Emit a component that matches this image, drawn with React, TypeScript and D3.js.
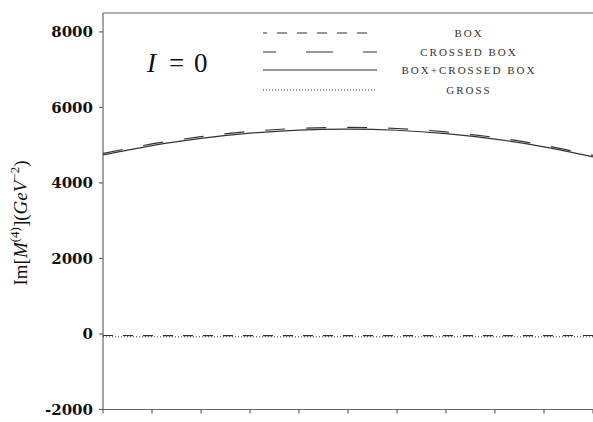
import React from "react";
import * as d3 from "d3";

// Sample points along the horizontal axis (eleven evenly spaced positions)
const xs = [0, 1, 2, 3, 4, 5, 6, 7, 8, 9, 10];

// Im part of the I = 0 amplitude, GeV^-2
const boxValues = [-40, -42, -44, -45, -46, -46, -46, -45, -44, -42, -40];
const crossedValues = [4780, 5032, 5224, 5363, 5446, 5471, 5441, 5350, 5204, 4997, 4730];
const sumValues = [4740, 4990, 5180, 5318, 5400, 5425, 5395, 5305, 5160, 4955, 4690];
const grossValues = [-75, -75, -75, -75, -75, -75, -75, -75, -75, -75, -75];

const yTicks = [-2000, 0, 2000, 4000, 6000, 8000];
const xTicks = [0, 1, 2, 3, 4, 5, 6, 7, 8, 9, 10];

const legendLabels = ["BOX", "CROSSED BOX", "BOX+CROSSED BOX", "GROSS"];

const W = 593;
const H = 422;
const left = 103;
const right = 593;
const top = 13;
const bottom = 409.5;

const x = d3.scaleLinear().domain([0, 10]).range([left, right]);
const y = d3.scaleLinear().domain([-2000, 8500]).range([bottom, top]);

const line = d3
  .line<number>()
  .x((_, i) => x(xs[i]))
  .y((d) => y(d))
  .curve(d3.curveNatural);

const ink = "#333";
const axisColor = "#666";

const series = [
  { values: boxValues, dash: "10,10", legendDash: "10,10", legendOffset: 6 },
  { values: crossedValues, dash: "20,21", legendDash: "27,30", legendOffset: 14 },
  { values: sumValues, dash: "none", legendDash: "none", legendOffset: 0 },
  { values: grossValues, dash: "1,2", legendDash: "1,2", legendOffset: 0 },
];

const legendRows = [33, 52, 70, 90];

export default function App() {
  return (
    <svg
      width={W}
      height={H}
      style={{ position: "absolute", left: 0, top: 0, background: "#fff" }}
    >
      <defs>
        <clipPath id="plot">
          <rect x={left} y={top} width={right - left} height={bottom - top} />
        </clipPath>
      </defs>

      {/* frame */}
      <line x1={left} x2={left} y1={top} y2={bottom} stroke={axisColor} strokeWidth={1.2} />
      <line x1={left} x2={W} y1={top} y2={top} stroke={axisColor} strokeWidth={1.2} />
      <line x1={left - 3} x2={W} y1={bottom} y2={bottom} stroke={axisColor} strokeWidth={1.2} />

      {/* y ticks and labels */}
      {yTicks.map((t) => (
        <g key={t}>
          <line x1={left - 4} x2={left} y1={y(t)} y2={y(t)} stroke={axisColor} strokeWidth={1.2} />
          <text
            x={left - 10}
            y={y(t)}
            dy="0.36em"
            textAnchor="end"
            fontFamily="DejaVu Serif"
            fontWeight="bold"
            fontSize={15}
            fill="#111"
          >
            {t}
          </text>
        </g>
      ))}

      {/* x ticks */}
      {xTicks.map((t) => (
        <line
          key={t}
          x1={x(t)}
          x2={x(t)}
          y1={bottom}
          y2={bottom + 4}
          stroke={axisColor}
          strokeWidth={1.2}
        />
      ))}

      {/* curves */}
      <g clipPath="url(#plot)">
        {series.map((s, i) => (
          <path
            key={i}
            d={line(s.values) || ""}
            fill="none"
            stroke={ink}
            strokeWidth={i === 3 ? 1 : 1.2}
            strokeDasharray={s.dash}
          />
        ))}
      </g>

      {/* legend */}
      {series.map((s, i) => (
        <g key={i}>
          <line
            x1={263}
            x2={377}
            y1={legendRows[i]}
            y2={legendRows[i]}
            stroke={ink}
            strokeWidth={i === 3 ? 1 : 1.2}
            strokeDasharray={s.legendDash}
            strokeDashoffset={s.legendOffset}
          />
          <text
            x={469}
            y={legendRows[i]}
            dy="0.38em"
            textAnchor="middle"
            fontFamily="Liberation Serif"
            fontSize={11}
            letterSpacing={2}
            fill="#333"
          >
            {legendLabels[i]}
          </text>
        </g>
      ))}

      {/* isospin annotation */}
      <g fontFamily="Liberation Serif" fontSize={27} fill="#111">
        <text x={147} y={72} fontStyle="italic">I</text>
        <text x={169} y={72}>=</text>
        <text x={194} y={72}>0</text>
      </g>

      {/* y axis title */}
      <text
        transform="translate(27,223) rotate(-90)"
        textAnchor="middle"
        fontFamily="Liberation Serif"
        fontSize={19}
        fill="#111"
      >
        Im[
        <tspan fontStyle="italic">M</tspan>
        <tspan fontSize={13} dy={-8}>(4)</tspan>
        <tspan dy={8}>](</tspan>
        <tspan fontStyle="italic">GeV</tspan>
        <tspan fontSize={13} dy={-8}>−2</tspan>
        <tspan dy={8}>)</tspan>
      </text>
    </svg>
  );
}
